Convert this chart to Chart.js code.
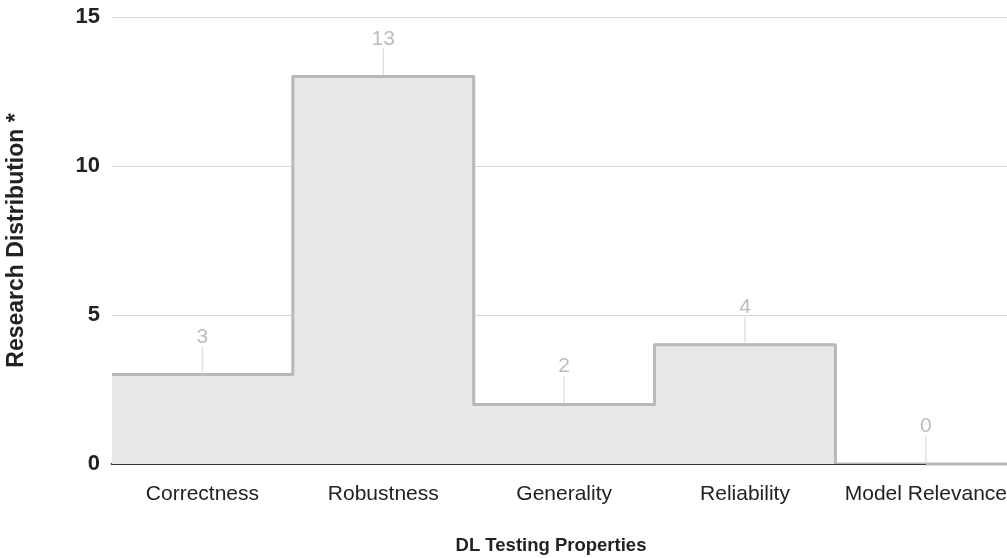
<!DOCTYPE html>
<html>
<head>
<meta charset="utf-8">
<script src="https://cdn.jsdelivr.net/npm/chart.js@4/dist/chart.umd.min.js"></script>
<style>
  html, body { margin: 0; padding: 0; background: #fff; overflow: hidden; }
  /* plot runs a little past the right edge of the window, as in the source */
  #wrap { width: 1017px; height: 558px; position: relative; }
</style>
</head>
<body>
<div id="wrap"><canvas id="chart"></canvas></div>
<script>
/* ── data ── */
const categories = ['Correctness', 'Robustness', 'Generality', 'Reliability', 'Model Relevance'];
const counts     = [3, 13, 2, 4, 0];
const yTicks     = [0, 5, 10, 15];
const xTitle     = 'DL Testing Properties';
const yTitle     = 'Research Distribution *';

const FONT = "'Liberation Sans', Arial, sans-serif";
const LINE = '#b8b8b8';

/* extend the stepped outline out to the plot edges */
const stepEdges = {
  id: 'stepEdges',
  afterDatasetDraw(chart, args) {
    if (args.index !== 1) return;
    const pts = args.meta.data;
    const { left, right } = chart.chartArea;
    const ctx = chart.ctx;
    const first = pts[0], last = pts[pts.length - 1];
    ctx.save();
    ctx.strokeStyle = LINE;
    ctx.lineWidth = 3;
    ctx.beginPath();
    ctx.moveTo(left, first.y);  ctx.lineTo(first.x, first.y);
    ctx.moveTo(last.x, last.y); ctx.lineTo(right, last.y);
    ctx.stroke();
    ctx.restore();
  }
};

/* value labels with a thin leader line, plus the x title */
const valueLabels = {
  id: 'valueLabels',
  afterDraw(chart) {
    const meta = chart.getDatasetMeta(1);
    const ctx = chart.ctx;
    ctx.save();
    meta.data.forEach((pt, i) => {
      ctx.strokeStyle = '#e2e2e2';
      ctx.lineWidth = 1.5;
      ctx.beginPath();
      ctx.moveTo(pt.x, pt.y - 2);
      ctx.lineTo(pt.x, pt.y - 28);
      ctx.stroke();
      ctx.fillStyle = '#bdbdbd';
      ctx.font = '21px ' + FONT;
      ctx.textAlign = 'center';
      ctx.textBaseline = 'alphabetic';
      ctx.fillText(String(counts[i]), pt.x, pt.y - 32);
    });
    // x title sits a bit left of the plot centre in the source
    ctx.fillStyle = '#222';
    ctx.font = 'bold 18.5px ' + FONT;
    ctx.textAlign = 'center';
    ctx.textBaseline = 'middle';
    ctx.fillText(xTitle, chart.chartArea.left + 439, 546);
    ctx.restore();
  }
};

new Chart(document.getElementById('chart'), {
  data: {
    labels: categories,
    datasets: [
      { type: 'bar', data: counts,
        backgroundColor: '#e8e8e8', borderWidth: 0, inflateAmount: 1,
        barPercentage: 1, categoryPercentage: 1, order: 2 },
      { type: 'line', data: counts,
        stepped: 'middle', fill: false,
        borderColor: LINE, borderWidth: 3,
        borderJoinStyle: 'round', pointRadius: 0, order: 1 }
    ]
  },
  options: {
    responsive: true, maintainAspectRatio: false, animation: false,
    layout: { padding: { top: 17, right: 0, bottom: 0, left: 0 } },
    plugins: { legend: { display: false }, tooltip: { enabled: false } },
    scales: {
      x: {
        offset: true, z: 1,
        grid: { display: false },
        border: { display: true, color: '#333', width: 2 },
        ticks: { font: { size: 21, family: FONT }, color: '#222', padding: 10, maxRotation: 0 },
        afterFit(s) { s.height = 94; }
      },
      y: {
        min: 0, max: 15,
        afterBuildTicks(s) { s.ticks = yTicks.map(v => ({ value: v })); },
        grid: { color: '#d6d6d6', drawTicks: false },
        border: { display: false },
        ticks: { font: { size: 22, weight: 'bold', family: FONT }, color: '#222', padding: 12 },
        title: { display: true, text: yTitle,
                 font: { size: 23, weight: 'bold', family: FONT }, color: '#222',
                 padding: { top: 3, bottom: 0 } },
        afterFit(s) { s.width = 112; s.paddingTop = 0; s.paddingBottom = 0; }
      }
    }
  },
  plugins: [stepEdges, valueLabels]
});
</script>
</body>
</html>
